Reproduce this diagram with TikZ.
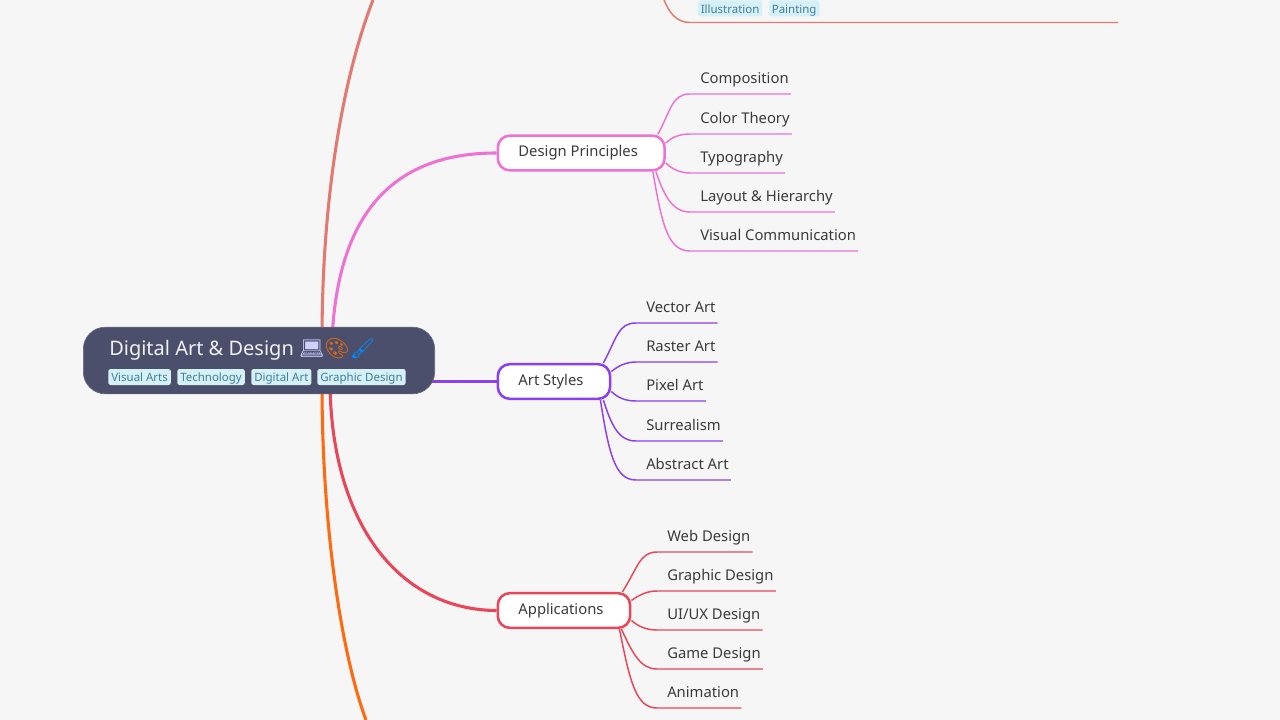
\documentclass[tikz,border=0pt]{standalone}
\usepackage{fontspec}
\setmainfont{Noto Sans}
\newfontfamily\emojifont{Noto Emoji}
\usepackage{tikz}

\definecolor{pagebg}{HTML}{F6F6F6}
\definecolor{rootfill}{HTML}{4C4F6B}
\definecolor{tagfill}{HTML}{D6F0F8}
\definecolor{tagtext}{HTML}{3F7F99}
\definecolor{inktext}{HTML}{3A3A3C}
\definecolor{salmonc}{HTML}{E27A72}
\definecolor{pinkc}{HTML}{EE72D2}
\definecolor{purplec}{HTML}{8A3FF0}
\definecolor{redc}{HTML}{E8475A}
\definecolor{orangec}{HTML}{FF6A10}

\begin{document}
\begin{tikzpicture}[x=0.75pt, y=-0.75pt]
    \tikzstyle{rootnode} = [rectangle, rounded corners=16.5pt, fill=rootfill, draw=rootfill!85!white, line width=0.5pt, minimum width=263.5pt, minimum height=50pt, inner sep=0pt]
    \tikzstyle{titlenode} = [anchor=west, inner sep=0pt, text=white!92!rootfill, font=\fontsize{15pt}{18pt}\selectfont]
    \tikzstyle{tagnode} = [anchor=west, rectangle, rounded corners=1.8pt, fill=tagfill, text=tagtext, inner xsep=2.3pt, inner ysep=0pt, minimum height=12pt, text height=7.6pt, text depth=0.4pt, font=\fontsize{8.6pt}{10pt}\selectfont]
    \tikzstyle{branchnode} = [anchor=west, rectangle, rounded corners=9pt, fill=white, line width=1.9pt, text=inktext, minimum height=26pt, inner xsep=15.5pt, inner ysep=0pt, text height=8.5pt, text depth=2.5pt, font=\fontsize{11.1pt}{13pt}\selectfont, execute at end node=\hspace*{4.5pt}]
    \tikzstyle{leafnode} = [anchor=south west, inner ysep=0pt, inner xsep=0pt, text=inktext, text depth=7.35pt, font=\fontsize{11.1pt}{13pt}\selectfont, execute at begin node=\hspace*{7.5pt}, execute at end node=\hspace*{1.5pt}]
    \tikzstyle{mainline} = [line width=2.3pt]
    \tikzstyle{leafline} = [line width=1.1pt]

    % Background
    \fill[pagebg] (0,0) rectangle (1280,720);
    \useasboundingbox (0,0) rectangle (1280,720);

    % Branches
    \node[branchnode, draw=pinkc] (principles) at (496.5,153) {Design Principles};
    \node[branchnode, draw=purplec] (styles) at (496.5,381.5) {Art Styles};
    \node[branchnode, draw=redc] (apps) at (496.5,610.5) {Applications};

    % Free ends of the main lines
    \coordinate (salmonroot) at (322,340);
    \coordinate (salmonend) at (373,0);
    \coordinate (orangeroot) at (322,385);
    \coordinate (orangeend) at (366,720);
    \coordinate (pinkroot) at (332,340);
    \coordinate (redroot) at (330,385);
    \coordinate (purpleroot) at (428,381.5);

    % Main lines
    \begin{scope}
        \clip (0,0) rectangle (1280,720);
        \draw[mainline, salmonc] (salmonroot) .. controls (322,200) and (342,80) .. (salmonend);
        \draw[mainline, orangec] (orangeroot) .. controls (322,520) and (340,650) .. (orangeend);
        \draw[mainline, pinkc] (pinkroot) .. controls (338,205) and (400,153) .. (principles.west);
        \draw[mainline, redc] (redroot) .. controls (332,525) and (400,610) .. (apps.west);
        \draw[mainline, purplec] (purpleroot) -- (styles.west);
    \end{scope}

    % Root
    \node[rootnode] (root) at (259,360.5) {};
    \node[titlenode] (title) at (109,349) {Digital Art \& Design {\emojifont\textcolor{blue!18!white}{💻}\textcolor{orange!85!red}{🎨}\textcolor{blue!45!cyan}{🖌}}};
    \node[tagnode] (tagvisual) at (108,377) {Visual Arts};
    \node[tagnode] (tagtech) at (177,377) {Technology};
    \node[tagnode] (tagdigital) at (251,377) {Digital Art};
    \node[tagnode] (taggraphic) at (317,377) {Graphic Design};

    % Leaves
    \foreach \name/\txt/\y in {comp/Composition/94, theory/Color Theory/134, typo/Typography/173, layout/Layout \& Hierarchy/212, visual/Visual Communication/251}
        \node[leafnode] (\name) at (690,\y) {\txt};
    \foreach \name/\txt/\y in {vector/Vector Art/323, raster/Raster Art/362, pixel/Pixel Art/401, surreal/Surrealism/441, abstract/Abstract Art/480}
        \node[leafnode] (\name) at (636,\y) {\txt};
    \foreach \name/\txt/\y in {web/Web Design/552, graphic/Graphic Design/591, uiux/{UI/UX Design}/630, game/Game Design/669, anim/Animation/708}
        \node[leafnode] (\name) at (657,\y) {\txt};

    % Leaf lines for Design Principles
    \draw[leafline, pinkc] (principles.north east) ++(-8,0) .. controls (671,110) and (672,94) .. (comp.south west) -- (comp.south east);
    \draw[leafline, pinkc] (principles.east) ++(0,-10) .. controls (672,137) and (680,134) .. (theory.south west) -- (theory.south east);
    \draw[leafline, pinkc] (principles.east) ++(0,10) .. controls (672,169) and (680,173) .. (typo.south west) -- (typo.south east);
    \draw[leafline, pinkc] (principles.south east) ++(-10,0) .. controls (664,195) and (672,212) .. (layout.south west) -- (layout.south east);
    \draw[leafline, pinkc] (principles.south east) ++(-13,0) .. controls (662,225) and (668,251) .. (visual.south west) -- (visual.south east);

    % Leaf lines for Art Styles
    \draw[leafline, purplec] (styles.north east) ++(-8,0) .. controls (617,338) and (618,323) .. (vector.south west) -- (vector.south east);
    \draw[leafline, purplec] (styles.east) ++(0,-10) .. controls (618,366) and (626,362) .. (raster.south west) -- (raster.south east);
    \draw[leafline, purplec] (styles.east) ++(0,10) .. controls (618,398) and (626,401) .. (pixel.south west) -- (pixel.south east);
    \draw[leafline, purplec] (styles.south east) ++(-8,0) .. controls (611,424) and (618,441) .. (surreal.south west) -- (surreal.south east);
    \draw[leafline, purplec] (styles.south east) ++(-11,0) .. controls (609,454) and (615,480) .. (abstract.south west) -- (abstract.south east);

    % Leaf lines for Applications
    \draw[leafline, redc] (apps.north east) ++(-9,0) .. controls (638,567) and (640,552) .. (web.south west) -- (web.south east);
    \draw[leafline, redc] (apps.east) ++(0,-10) .. controls (639,595) and (647,591) .. (graphic.south west) -- (graphic.south east);
    \draw[leafline, redc] (apps.east) ++(0,10) .. controls (639,627) and (647,630) .. (uiux.south west) -- (uiux.south east);
    \draw[leafline, redc] (apps.south east) ++(-10,0) .. controls (632,652) and (640,669) .. (game.south west) -- (game.south east);
    \draw[leafline, redc] (apps.south east) ++(-12,0) .. controls (630,682) and (636,708) .. (anim.south west) -- (anim.south east);

    % Cut off leaf at the top
    \coordinate (upperstart) at (664,0);
    \coordinate (upperend) at (1118,22.5);
    \coordinate (upperbend) at (690,22.5);
    \draw[leafline, salmonc] (upperstart) .. controls (669,12) and (676,22.5) .. (upperbend) -- (upperend);
    \node[tagnode] (tagillus) at (697.5,8.5) {Illustration};
    \node[tagnode] (tagpaint) at (768.5,8.5) {Painting};
\end{tikzpicture}
\end{document}
